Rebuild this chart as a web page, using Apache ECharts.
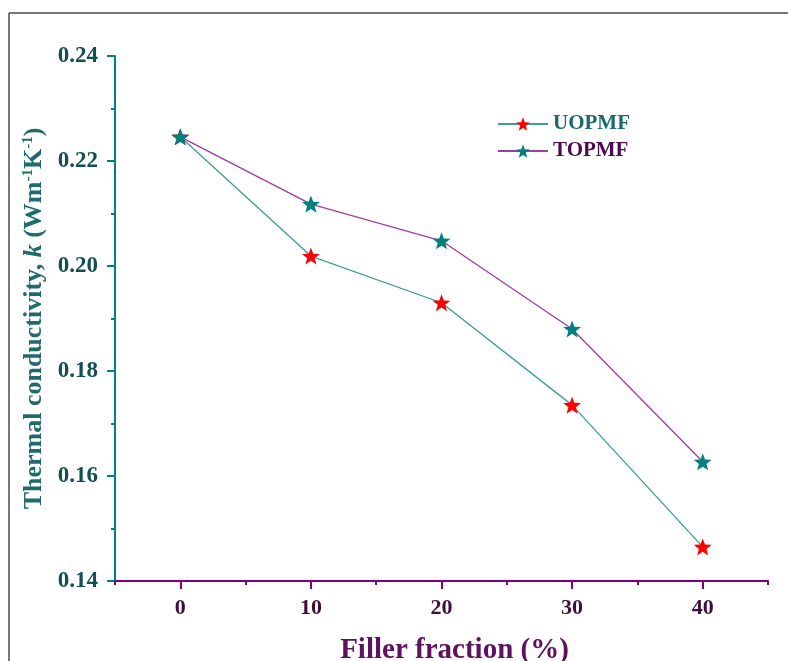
<!DOCTYPE html>
<html>
<head>
<meta charset="utf-8">
<script src="https://cdn.jsdelivr.net/npm/echarts@6/dist/echarts.min.js"></script>
<style>
html,body{margin:0;padding:0;background:#fff;overflow:hidden;}
#chart{position:absolute;left:0;top:0;width:788px;height:661px;}
</style>
</head>
<body>
<div id="chart"></div>
<script>
// Data
const fillerFraction = [0, 10, 20, 30, 40];
const uopmf = [0.2246, 0.2019, 0.1930, 0.1735, 0.1465];
const topmf = [0.2246, 0.2118, 0.2048, 0.1880, 0.1627];
const xMajorTicks = [0, 10, 20, 30, 40];
const xMinorTicks = [-5, 5, 15, 25, 35, 45];

const STAR = 'path://M50 0L62.34 33.01L97.55 34.55L69.97 56.49L79.39 90.45L50 71L20.61 90.45L30.03 56.49L2.45 34.55L37.66 33.01Z';
const serif = '"Liberation Serif", "DejaVu Serif", serif';
const teal = '#008080', purple = '#800080';

const chart = echarts.init(document.getElementById('chart'));
chart.setOption({
  animation: false,
  graphic: [
    {type: 'line', shape: {x1: 9, y1: 13, x2: 800, y2: 13}, style: {stroke: '#4a4a4a', lineWidth: 1.5}, silent: true},
    {type: 'line', shape: {x1: 9, y1: 13, x2: 9, y2: 700}, style: {stroke: '#4a4a4a', lineWidth: 1.5}, silent: true}
  ],
  grid: {left: 115, right: 20, top: 56, bottom: 80, outerBoundsMode: 'none', containLabel: false},
  legend: {
    orient: 'vertical', left: 497, top: 113, padding: 0, itemWidth: 50, itemHeight: 17, itemGap: 5,
    textStyle: {fontFamily: serif, fontWeight: 'bold', fontSize: 21, lineHeight: 22},
    data: [
      {name: 'UOPMF', textStyle: {color: '#1a6a6a'}},
      {name: 'TOPMF', textStyle: {color: '#4d0a4d'}}
    ]
  },
  xAxis: [{
    type: 'value', min: -5, max: 45, interval: 5,
    name: 'Filler fraction (%)', nameLocation: 'middle', nameGap: 55,
    nameTextStyle: {fontFamily: serif, fontWeight: 'bold', fontSize: 29, color: '#5e125e', padding: [0, 0, 0, 26]},
    axisLine: {onZero: false, lineStyle: {color: purple, width: 2}},
    axisTick: {show: true, inside: false, length: 8, lineStyle: {color: purple, width: 2}, customValues: xMajorTicks},
    axisLabel: {customValues: xMajorTicks, margin: 16, fontFamily: serif, fontWeight: 'bold', fontSize: 22, color: '#3d0f3d'},
    splitLine: {show: false}
  }, {
    type: 'value', min: -5, max: 45, interval: 5, position: 'bottom',
    axisLine: {show: false, onZero: false},
    axisTick: {show: true, length: 4, lineStyle: {color: purple, width: 2}, customValues: xMinorTicks},
    axisLabel: {show: false},
    splitLine: {show: false}
  }],
  yAxis: {
    type: 'value', min: 0.14, max: 0.24, interval: 0.02,
    name: 'Thermal conductivity, {i|k} (Wm{sup|-1}K{sup|-1})', nameLocation: 'middle', nameGap: 60,
    nameTextStyle: {
      fontFamily: serif, fontWeight: 'bold', fontSize: 26, color: '#1f6b6b',
      rich: {
        i: {fontFamily: serif, fontWeight: 'bold', fontStyle: 'italic', fontSize: 26, color: '#1f6b6b'},
        sup: {fontFamily: serif, fontWeight: 'bold', fontSize: 15, color: '#1f6b6b', verticalAlign: 'bottom', padding: [0, 0, 11, 0]}
      }
    },
    axisLine: {onZero: false, lineStyle: {color: teal, width: 2}},
    axisTick: {show: true, length: 8, lineStyle: {color: teal, width: 2}},
    minorTick: {show: true, splitNumber: 2, length: 4, lineStyle: {color: teal, width: 2}},
    axisLabel: {margin: 17, fontFamily: serif, fontWeight: 'bold', fontSize: 23, color: '#134f4f',
      formatter: v => v.toFixed(2)},
    splitLine: {show: false}, minorSplitLine: {show: false}
  },
  series: [{
    name: 'UOPMF', type: 'line', xAxisIndex: 0,
    data: fillerFraction.map((x, i) => [x, uopmf[i]]),
    symbol: STAR, symbolSize: [18, 17],
    lineStyle: {color: '#3a9c9c', width: 1.3},
    itemStyle: {color: '#ff0000'}, z: 2
  }, {
    name: 'TOPMF', type: 'line', xAxisIndex: 0,
    data: fillerFraction.map((x, i) => [x, topmf[i]]),
    symbol: STAR, symbolSize: [18, 17],
    lineStyle: {color: '#a03ca0', width: 1.3},
    itemStyle: {color: '#008080'}, z: 3
  }]
});
</script>
</body>
</html>
